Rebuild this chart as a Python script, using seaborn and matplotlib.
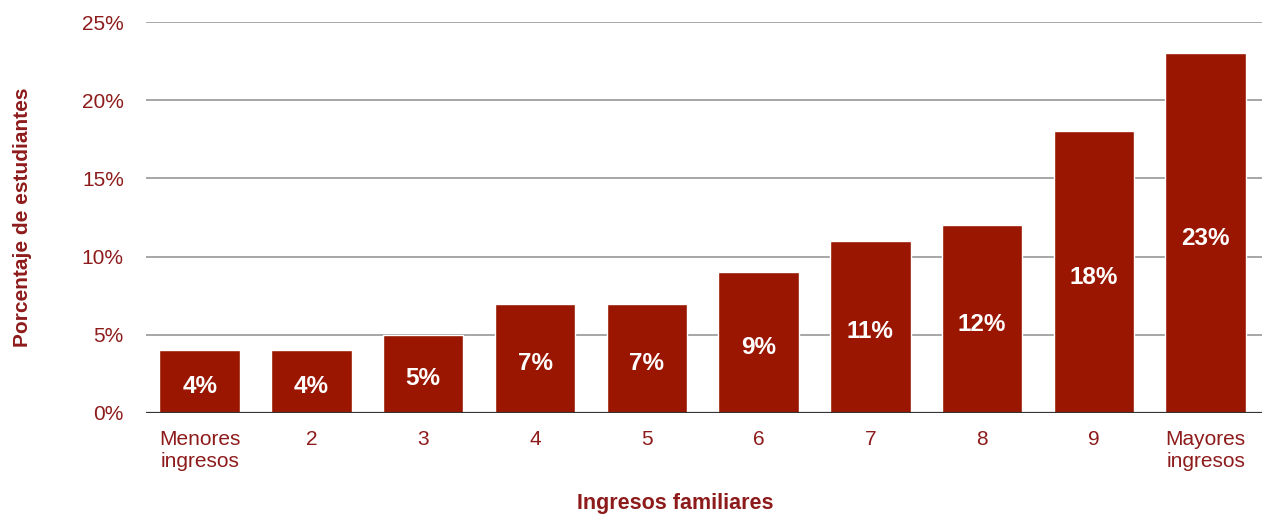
import matplotlib
matplotlib.use("Agg")
import matplotlib.pyplot as plt
import seaborn as sns
import pandas as pd

categories = ["Menores\ningresos", "2", "3", "4", "5", "6", "7", "8", "9", "Mayores\ningresos"]
values = [4, 4, 5, 7, 7, 9, 11, 12, 18, 23]
yticks = [0, 5, 10, 15, 20, 25]
ytick_labels = ["0%", "5%", "10%", "15%", "20%", "25%"]

sns.set_theme(style="white")
plt.rcParams['font.family'] = ['Liberation Sans', 'DejaVu Sans']

bar_color = "#9a1600"
text_color = "#8e1b1b"

df = pd.DataFrame({"cat": categories, "val": values})

fig = plt.figure(figsize=(12.62, 5.17), dpi=100)
ax = fig.add_axes([0.1157, 0.2012, 0.884, 0.7562])

sns.barplot(data=df, x="cat", y="val", color=bar_color, width=0.72,
            saturation=1, ax=ax, zorder=3)

ax.set_ylim(0, 25)
ax.set_xlim(-0.48, 9.5)
ax.set_yticks(yticks)
ax.set_yticklabels(ytick_labels)
for y in yticks[1:]:
    ax.axhline(y, color="#8e8e8e", lw=1.1, zorder=1)
ax.axhline(0, color="#333333", lw=1.6, zorder=4)

for s in ax.spines.values():
    s.set_visible(False)

ax.tick_params(axis="y", length=0, pad=16, labelsize=15, labelcolor=text_color)
ax.tick_params(axis="x", length=0, pad=12, labelsize=15, labelcolor=text_color)

for p, v in zip(ax.patches, values):
    ax.annotate(f"{v}%", (p.get_x() + p.get_width() / 2, v / 2),
                xytext=(0, -3.5), textcoords="offset points",
                ha="center", va="center", color="white", fontsize=17.5,
                fontweight="bold", zorder=5)

ax.set_xlabel("Ingresos familiares", color=text_color, fontsize=15.5,
              fontweight="bold", va="baseline")
ax.set_ylabel("Porcentaje de estudiantes", color=text_color, fontsize=15,
              fontweight="bold")
ax.xaxis.set_label_coords(0.474, -0.246)
ax.yaxis.set_label_coords(-0.1025, 0.5)

fig.savefig("out.png", dpi=100, facecolor="white")
